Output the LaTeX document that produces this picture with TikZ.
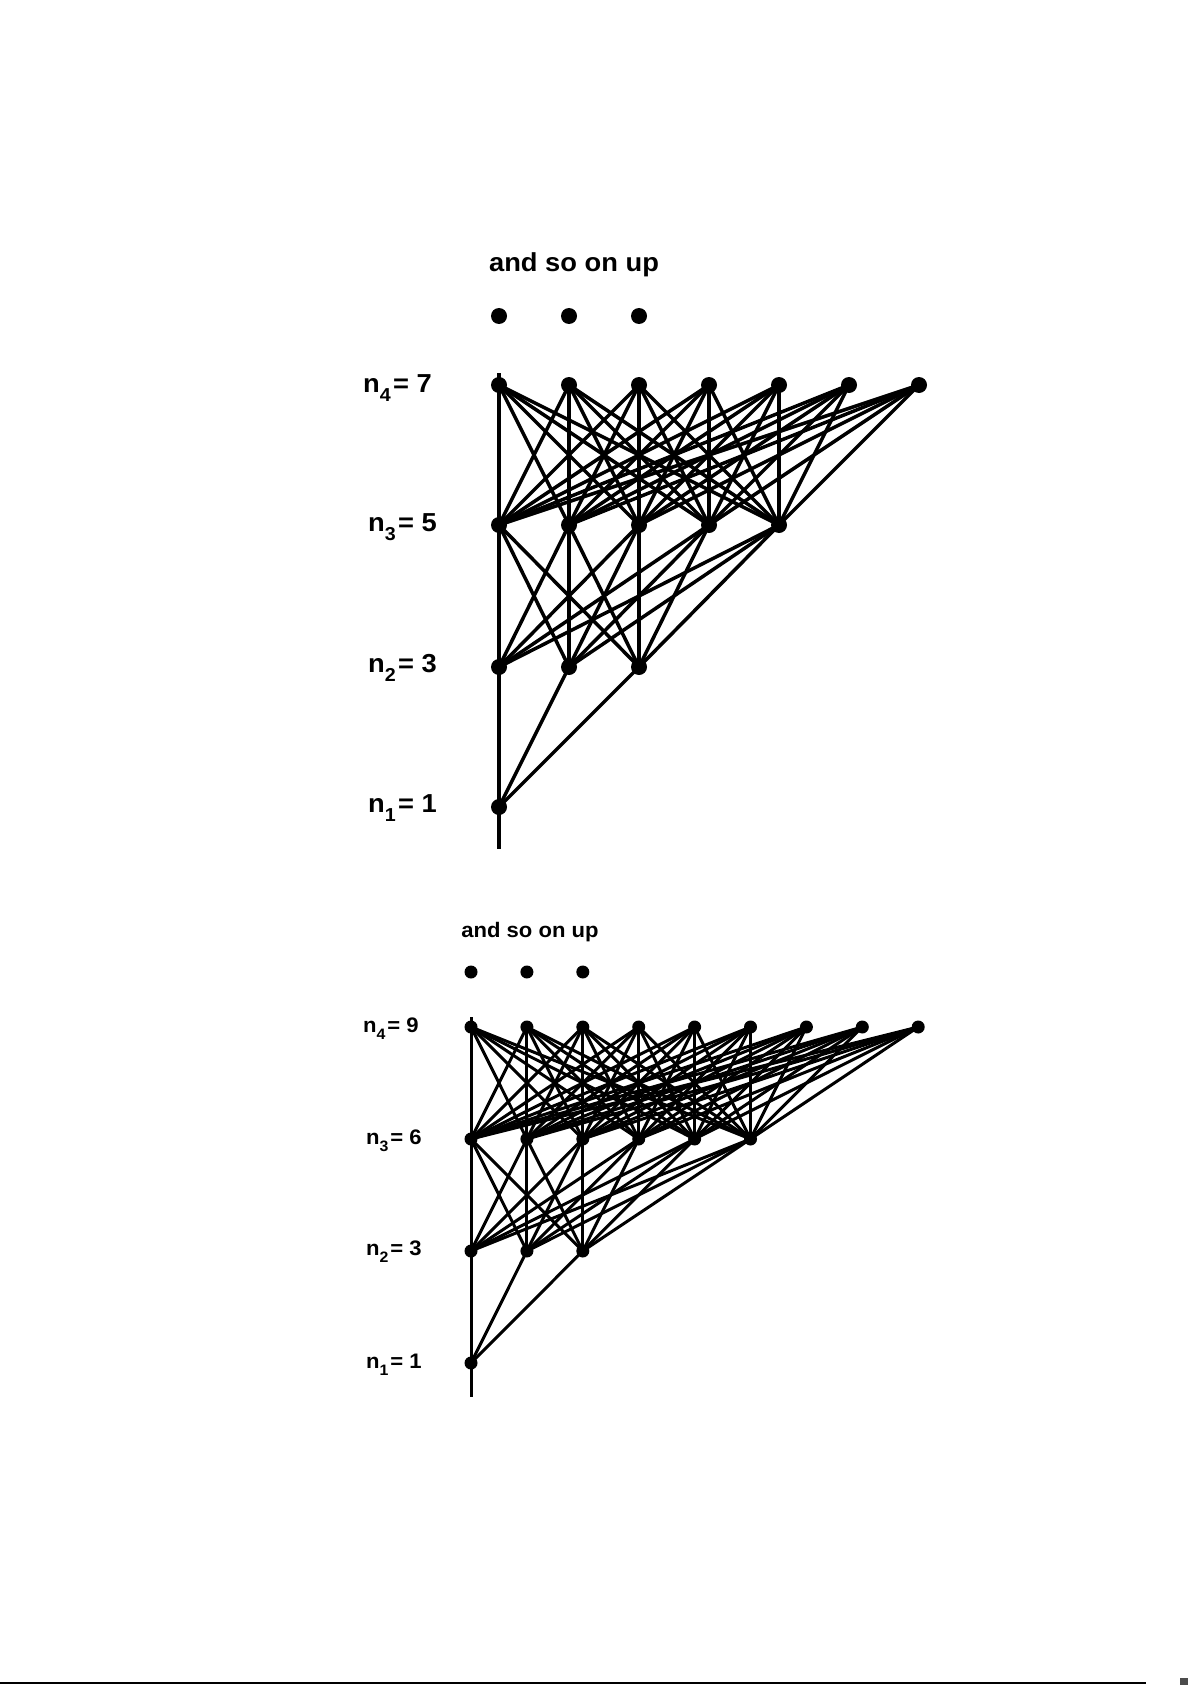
\documentclass[tikz,border=0pt]{standalone}
\usepackage{fontspec}
\setmainfont[FakeStretch=1.05]{Liberation Sans}
\usepackage{graphicx}
\newcommand{\sbs}[1]{\raisebox{-0.36em}{\scalebox{0.72}{#1}}\hspace{0.09em}}
\pgfdeclarelayer{bg}
\pgfsetlayers{bg,main}
\begin{document}
\begin{tikzpicture}[x=1pt,y=-1pt,
  dotA/.style={circle,fill=black,inner sep=0pt,minimum size=16pt},
  dotB/.style={circle,fill=black,inner sep=0pt,minimum size=13pt},
  edgeA/.style={line width=3.5pt},
  edgeB/.style={line width=3pt},
  lblA/.style={font=\bfseries\fontsize{26}{30}\selectfont,inner sep=0pt,anchor=base west},
  lblB/.style={font=\bfseries\fontsize{21}{25}\selectfont,inner sep=0pt,anchor=base west}]
\useasboundingbox (0,0) rectangle (1192,1685);

% ---------------- first lattice ----------------
\node[lblA,anchor=base] (atext) at (574,272) {and so on up};
\foreach \i in {0,1,2} \node[dotA] (ad\i) at ({499+70*\i},316) {};
\foreach \i in {0,...,6} \node[dotA] (a4-\i) at ({499+70*\i},385) {};
\foreach \i in {0,...,4} \node[dotA] (a3-\i) at ({499+70*\i},525) {};
\foreach \i in {0,...,2} \node[dotA] (a2-\i) at ({499+70*\i},667) {};
\node[dotA] (a1-0) at (499,807) {};
\coordinate (atop) at (499,373);
\coordinate (abot) at (499,849);
\node[lblA] (la4) at (363,392) {n\sbs{4}= 7};
\node[lblA] (la3) at (368,531) {n\sbs{3}= 5};
\node[lblA] (la2) at (368,672) {n\sbs{2}= 3};
\node[lblA] (la1) at (368,812) {n\sbs{1}= 1};
\begin{pgfonlayer}{bg}
\draw[edgeA] (atop) -- (a4-0.center);
\draw[edgeA] (a1-0.center) -- (abot);
\foreach \i in {0,...,6} \foreach \j in {0,...,4} \draw[edgeA] (a4-\i.center) -- (a3-\j.center);
\foreach \i in {0,...,4} \foreach \j in {0,...,2} \draw[edgeA] (a3-\i.center) -- (a2-\j.center);
\foreach \j in {0,...,2} \draw[edgeA] (a2-\j.center) -- (a1-0.center);
\end{pgfonlayer}

% ---------------- second lattice ----------------
\node[lblB,anchor=base] (btext) at (530,937) {and so on up};
\foreach \i in {0,1,2} \node[dotB] (bd\i) at ({471+55.9*\i},972) {};
\foreach \i in {0,...,8} \node[dotB] (b4-\i) at ({471+55.9*\i},1027) {};
\foreach \i in {0,...,5} \node[dotB] (b3-\i) at ({471+55.9*\i},1139) {};
\foreach \i in {0,...,2} \node[dotB] (b2-\i) at ({471+55.9*\i},1251) {};
\node[dotB] (b1-0) at (471,1363) {};
\coordinate (btop) at (471,1017);
\coordinate (bbot) at (471,1397);
\node[lblB] (lb4) at (363,1032) {n\sbs{4}= 9};
\node[lblB] (lb3) at (366,1144) {n\sbs{3}= 6};
\node[lblB] (lb2) at (366,1255) {n\sbs{2}= 3};
\node[lblB] (lb1) at (366,1368) {n\sbs{1}= 1};
\begin{pgfonlayer}{bg}
\draw[edgeB] (btop) -- (b4-0.center);
\draw[edgeB] (b1-0.center) -- (bbot);
\foreach \i in {0,...,8} \foreach \j in {0,...,5} \draw[edgeB] (b4-\i.center) -- (b3-\j.center);
\foreach \i in {0,...,5} \foreach \j in {0,...,2} \draw[edgeB] (b3-\i.center) -- (b2-\j.center);
\foreach \j in {0,...,2} \draw[edgeB] (b2-\j.center) -- (b1-0.center);
\end{pgfonlayer}

% bottom page rule
\coordinate (rl) at (0,1683);
\coordinate (rr) at (1146,1683);
\draw[line width=2pt] (rl) -- (rr);
\fill[black!70] (1180,1678) rectangle (1188,1685);
\end{tikzpicture}
\end{document}
